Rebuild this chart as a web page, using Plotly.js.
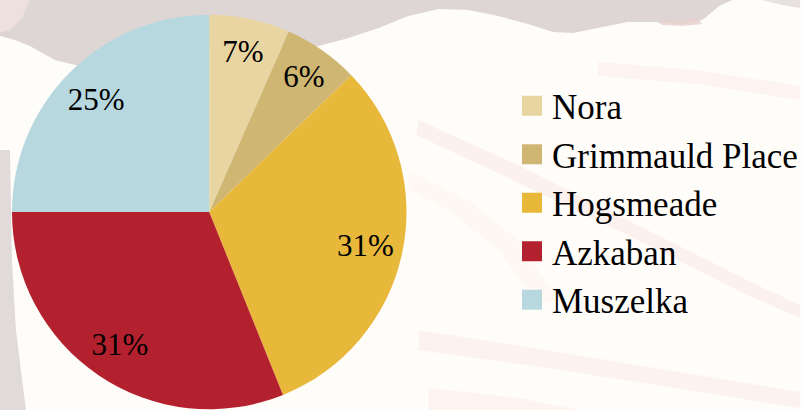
<!DOCTYPE html>
<html>
<head>
<meta charset="utf-8">
<script src="https://cdn.plot.ly/plotly-3.0.1.min.js"></script>
<style>
html,body{margin:0;padding:0;background:#fffdfa;}
#chart{width:803px;height:410px;}
.legendpie{ d: path("M10,10H-10V-10H10Z"); }
</style>
</head>
<body>
<div id="chart"></div>
<script>
// ---- data ----
var categories = ["Nora", "Grimmauld Place", "Hogsmeade", "Azkaban", "Muszelka"];
var values = [6.6, 6.2, 31.1, 31.1, 25.0];
var colors = ["#e9d5a1", "#cfb673", "#e8b83b", "#b4212e", "#b7d8df"];

// ---- decoration helpers (pixel -> paper) ----
var W = 803, H = 410, MT = 14, MB = 0;
function P(pts){
  var s = "";
  pts.forEach(function(p, i){
    var x = p[0] / W, y = 1 - (p[1] - MT) / (H - MT - MB);
    s += (i === 0 ? "M" : "L") + x.toFixed(4) + "," + y.toFixed(4) + " ";
  });
  return s + "Z";
}
function S(pts, color, op){
  return {type:"path", xref:"paper", yref:"paper", layer:"below", line:{width:0},
          fillcolor:color, opacity:op, path:P(pts)};
}
var shapes = [
  // grey faded blob at top
  S([[0,0],[735,0],[722,6],[705,20],[685,24],[660,22],[630,22],[600,28],[575,33],[555,32],[530,24],[500,16],[470,10],[440,9],[410,16],[380,28],[350,38],[320,46],[250,50],[200,50],[160,55],[130,60],[110,66],[80,66],[55,60],[30,46],[15,40],[0,36]], "#dcd3d3", 0.95),
  S([[0,0],[30,0],[22,18],[10,30],[0,32]], "#f1e2df", 0.8),
  S([[660,22],[700,18],[705,24],[685,26],[665,25]], "#e6cfcc", 0.8),
  S([[765,0],[803,0],[803,8],[785,5]], "#e6dede", 0.9),
  // left grey strip
  S([[0,150],[10,150],[12,260],[16,330],[26,410],[0,410]], "#ddd6d6", 0.9),
  // faint pink streaks
  S([[420,120],[520,165],[640,225],[760,285],[803,305],[803,318],[750,295],[630,235],[510,178],[418,135]], "#f6d8d2", 0.3),
  S([[420,330],[560,352],[700,375],[803,392],[803,408],[690,390],[550,368],[420,350]], "#f6d6cf", 0.28),
  S([[600,62],[700,70],[803,86],[803,100],[700,84],[600,76]], "#f7ddd6", 0.25),
  S([[430,388],[520,398],[580,410],[430,410]], "#f9e2db", 0.35),
  S([[410,170],[470,200],[520,240],[560,300],[540,305],[500,250],[450,210],[410,190]], "#fbeee5", 0.35)
];

// visible pie (no text)
var pie = {
  type: "pie",
  labels: categories,
  values: values,
  sort: false,
  direction: "clockwise",
  rotation: 0,
  marker: {colors: colors, line: {width: 0}},
  textinfo: "none",
  hoverinfo: "label+percent",
  domain: {x: [12/W, 408/W], y: [0, 1]}
};
// transparent ring carrying the percent labels (places them near the rim)
var labelsRing = {
  type: "pie",
  labels: categories,
  values: values,
  sort: false,
  direction: "clockwise",
  rotation: 0,
  hole: 0.62,
  showlegend: false,
  marker: {colors: categories.map(function(){return "rgba(0,0,0,0)";}), line: {width: 0}},
  textinfo: "percent",
  texttemplate: "%{percent:.0%}",
  textposition: "inside",
  insidetextorientation: "horizontal",
  textfont: {family: "Liberation Serif, serif", size: 31, color: "#000000"},
  hoverinfo: "skip",
  domain: {x: [12/W, 408/W], y: [0, 1]}
};

var layout = {
  width: W, height: H,
  margin: {l: 0, r: 0, t: MT, b: MB},
  paper_bgcolor: "rgba(0,0,0,0)",
  plot_bgcolor: "rgba(0,0,0,0)",
  showlegend: true,
  legend: {
    x: 0.64, y: 0.523, xanchor: "left", yanchor: "middle",
    font: {family: "Liberation Serif, serif", size: 35, color: "#000000"},
    bgcolor: "rgba(0,0,0,0)", itemclick: false
  },
  shapes: shapes
};

Plotly.newPlot("chart", [pie, labelsRing], layout, {displayModeBar: false, staticPlot: true});
</script>
</body>
</html>
